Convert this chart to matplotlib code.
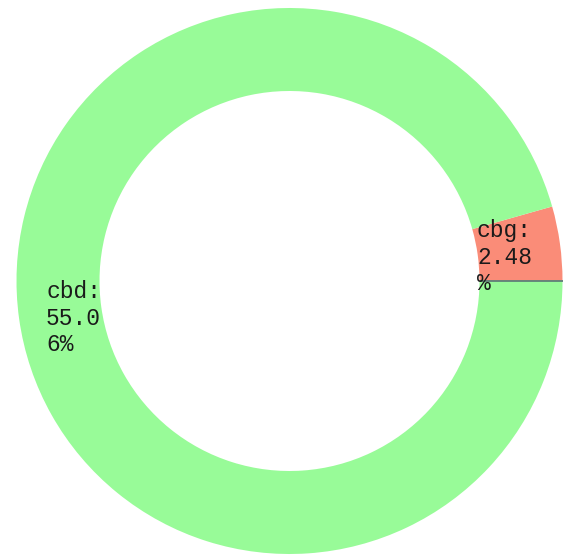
import matplotlib
matplotlib.use("Agg")
import matplotlib.pyplot as plt
import numpy as np

# slice data
categories = ["cbg", "cbd"]
label_pct = [2.48, 55.06]      # percentages printed in the labels
arc_share = [4.4, 95.6]        # share of the ring each slice covers as drawn
colors = ["#FA8C78", "#98FB98"]

# ring geometry, in pixels
W, H = 565, 556
cx, cy = 289.5, H - 281
r_out, r_in = 273, 190

fig = plt.figure(figsize=(W / 100, H / 100), dpi=100)
ax = fig.add_axes([0, 0, 1, 1])

ax.pie(arc_share, colors=colors, startangle=0, counterclock=True,
       center=(cx, cy), radius=r_out, frame=True,
       wedgeprops=dict(width=r_out - r_in, linewidth=0))

# thin divider at the start of the first slice
ang = np.deg2rad(0)
ax.plot([cx + r_in * np.cos(ang), cx + r_out * np.cos(ang)],
        [cy + r_in * np.sin(ang), cy + r_out * np.sin(ang)],
        color="#5E7F78", linewidth=1.3, solid_capstyle="butt")

# wrapped labels, placed inside the ring
def wrap(name, pct, width=4):
    s = f"{name}: {pct:.2f}%"
    parts = s.split(" ")
    head = parts[0]
    rest = parts[1]
    chunks = [rest[i:i + width] for i in range(0, len(rest), width)]
    return "\n".join([head] + chunks)

label_pos = {"cbg": (477, H - 219), "cbd": (46, H - 280)}
for name, pct in zip(categories, label_pct):
    x, y = label_pos[name]
    ax.text(x, y, wrap(name, pct), ha="left", va="top",
            fontsize=16.5, family="Liberation Mono", color="#1a1a1a",
            linespacing=1.2)

ax.set_xlim(0, W)
ax.set_ylim(0, H)
ax.set_aspect("equal")
ax.axis("off")

fig.savefig("out.png", dpi=100)
